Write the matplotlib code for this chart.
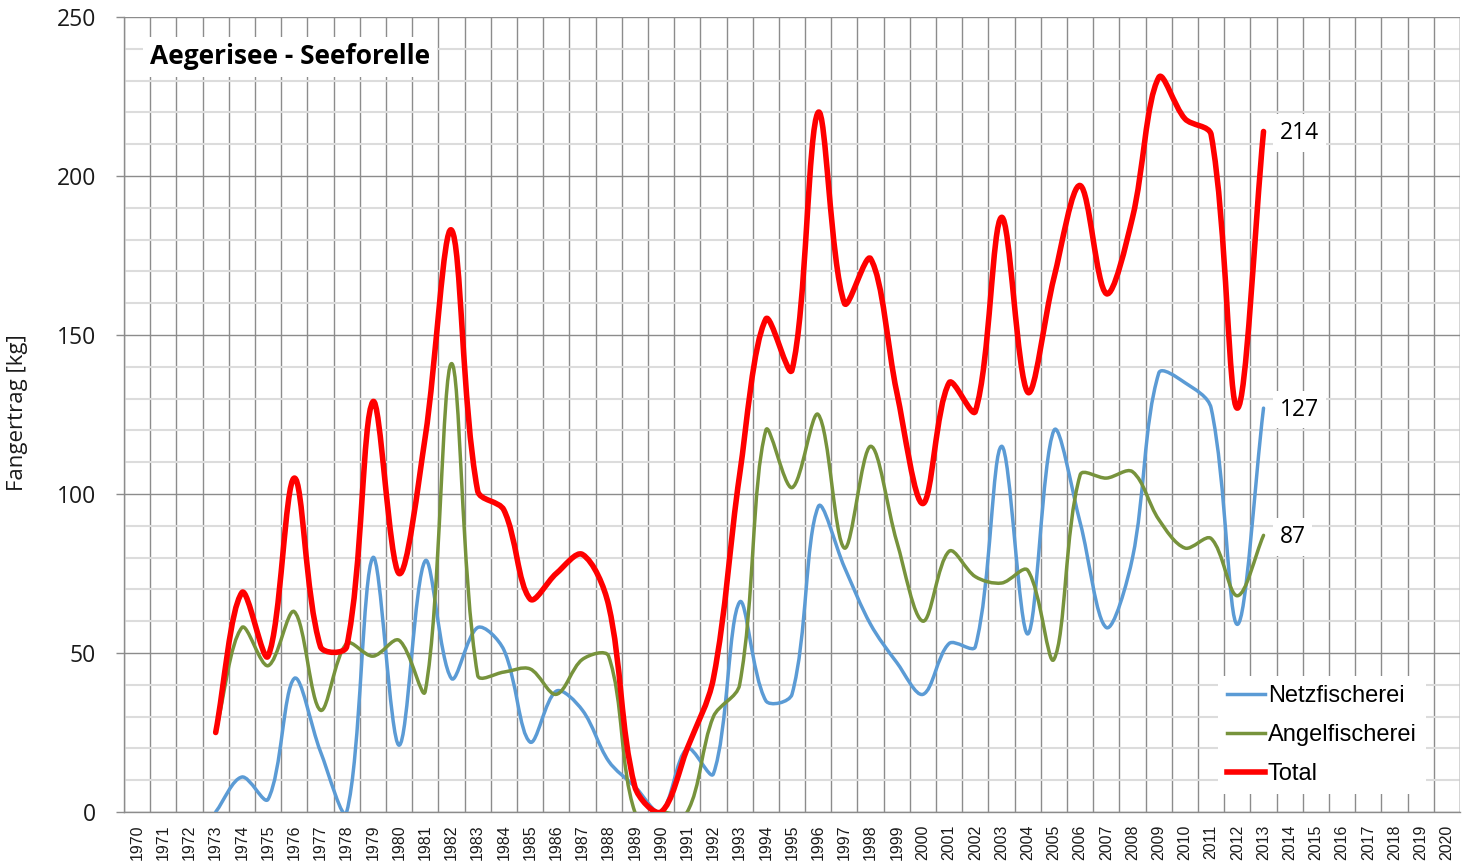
import matplotlib
matplotlib.use("Agg")
import matplotlib.pyplot as plt
import numpy as np
from matplotlib.path import Path
from matplotlib.patches import PathPatch
from matplotlib.lines import Line2D
from matplotlib.ticker import MultipleLocator

# ---------------- data ----------------
categories = list(range(1970, 2021))          # category axis labels
series_years = list(range(1973, 2014))         # years with values

netz = [0, 11, 4, 42, 19, 0, 80, 21, 79, 42, 58, 51, 22, 38, 32, 16, 8, 0, 20, 12,
        66, 35, 37, 96, 77, 59, 47, 37, 53, 52, 115, 56, 120, 91, 58, 80, 138, 135, 127, 59, 127]
angel = [25, 58, 46, 63, 32, 53, 49, 54, 38, 141, 43, 44, 45, 37, 48, 49, 0, 0, 0, 30,
         40, 120, 102, 125, 83, 115, 85, 60, 82, 74, 72, 76, 48, 106, 105, 107, 92, 83, 86, 68, 87]
total = [25, 69, 49, 105, 52, 52, 129, 75, 118, 183, 101, 95, 67, 75, 81, 65, 8, 0, 20, 42,
         106, 155, 139, 220, 160, 174, 132, 97, 135, 126, 187, 132, 168, 197, 163, 187, 231, 218, 213, 127, 214]

series_names = ["Netzfischerei", "Angelfischerei", "Total"]
end_labels = ["127", "87", "214"]

title_text = "Aegerisee - Seeforelle"
ylabel_text = "Fangertrag [kg]"

# ---------------- styles ----------------
c_blue = "#5B9BD5"
c_green = "#77933C"
c_red = "#FF0000"
grid_dark = "#8C8C8C"
grid_light = "#DCDCDC"

W, H = 1471, 865
fig = plt.figure(figsize=(W / 100, H / 100), dpi=100)
L, R, B, T = 124, 1460, 812, 17
ax = fig.add_axes([L / W, 1 - B / H, (R - L) / W, (B - T) / H])

xpos = {y: i for i, y in enumerate(categories)}

ax.set_xlim(-0.5, len(categories) - 0.5)
ax.set_ylim(0, 250)


def smooth_path(xs, ys):
    """Excel-like smoothed line: cubic Bezier, tangents scaled by screen segment lengths."""
    pts = np.column_stack([xs, ys]).astype(float)
    scr = ax.transData.transform(pts)
    n = len(pts)

    def seg(i, j):
        return np.hypot(*(scr[j] - scr[i]))

    verts = [pts[0]]
    codes = [Path.MOVETO]
    for i in range(n - 1):
        i0 = max(i - 1, 0)
        i3 = min(i + 2, n - 1)
        p1, p2 = pts[i], pts[i + 1]
        d_cur = seg(i, i + 1)
        d_prev = seg(i0, i)
        d_next = seg(i + 1, i3)
        f1 = d_cur / (d_prev + d_cur) if (d_prev + d_cur) > 0 else 0.5
        f2 = d_cur / (d_cur + d_next) if (d_cur + d_next) > 0 else 0.5
        c1 = p1 + (pts[i + 1] - pts[i0]) * f1 / 3.0
        c2 = p2 - (pts[i3] - pts[i]) * f2 / 3.0
        verts += [c1, c2, p2]
        codes += [Path.CURVE4] * 3
    return Path(np.array(verts), codes)


xs = [xpos[y] for y in series_years]
for vals, col, lw, z in [(netz, c_blue, 2.5, 3), (angel, c_green, 2.5, 4), (total, c_red, 4.0, 5)]:
    patch = PathPatch(smooth_path(xs, vals), fill=False, edgecolor=col, lw=lw,
                      capstyle="round", joinstyle="round", zorder=z)
    ax.add_patch(patch)

# axes ticks and grid
ax.set_xticks(range(len(categories)))
ax.set_xticklabels([str(c) for c in categories], rotation=90,
                   fontsize=11.5, family="Liberation Sans", color="#1a1a1a")
ax.tick_params(axis="x", length=0, pad=9)
ax.xaxis.set_minor_locator(MultipleLocator(1, offset=0.5))
ax.tick_params(axis="x", which="minor", length=0)
ax.grid(True, axis="x", which="minor", color=grid_dark, lw=1.0, zorder=0)

ax.yaxis.set_major_locator(MultipleLocator(50))
ax.yaxis.set_minor_locator(MultipleLocator(10))
ax.grid(True, axis="y", which="minor", color=grid_light, lw=1.5, zorder=0)
ax.grid(True, axis="y", which="major", color=grid_dark, lw=1.0, zorder=1)
ax.tick_params(axis="y", which="major", length=6, color=grid_dark, width=1.0,
               labelsize=16.5, pad=14, labelcolor="#1a1a1a")
ax.tick_params(axis="y", which="minor", length=0)
for lab in ax.get_yticklabels():
    lab.set_family("Open Sans")
ax.set_axisbelow(True)

for s in ["top", "right"]:
    ax.spines[s].set_visible(False)
for s in ["left", "bottom"]:
    ax.spines[s].set_color(grid_dark)
    ax.spines[s].set_linewidth(1.0)
ax.axvline(len(categories) - 0.5, color=grid_dark, lw=1.0, zorder=1)

# y label
fig.text(18 / W, 1 - 413 / H, ylabel_text, rotation=90, ha="center", va="center",
         fontsize=16, family="Open Sans", color="#1a1a1a")

# title
ax.text((150 - L) / (R - L), (B - 57) / (B - T), title_text, transform=ax.transAxes,
        ha="left", va="center", fontsize=19, fontweight="bold", family="Open Sans",
        color="black", zorder=10,
        bbox=dict(boxstyle="square,pad=0.25", fc="white", ec="none"))

# end labels
last_x = xpos[series_years[-1]]
for vals, txt in zip([netz, angel, total], end_labels):
    ax.annotate(txt, xy=(last_x, vals[-1]), xytext=(11.5, -1), textcoords="offset points",
                ha="left", va="center", fontsize=16.5, family="Open Sans", color="black",
                zorder=10, bbox=dict(boxstyle="square,pad=0.3", fc="white", ec="none"))

# legend
handles = [Line2D([], [], color=c_blue, lw=2.5),
           Line2D([], [], color=c_green, lw=2.5),
           Line2D([], [], color=c_red, lw=4.0)]
leg = ax.legend(handles, series_names, loc="center",
                bbox_to_anchor=((1322 - L) / (R - L), (B - 735) / (B - T)),
                prop={"family": "Liberation Sans", "size": 17},
                handlelength=1.6, handletextpad=0.1, labelspacing=0.72,
                frameon=True, fancybox=False, framealpha=1, borderpad=0.4)
leg.get_frame().set_facecolor("white")
leg.get_frame().set_edgecolor("none")
leg.set_zorder(20)

fig.savefig("out.png", dpi=100, facecolor="white")
